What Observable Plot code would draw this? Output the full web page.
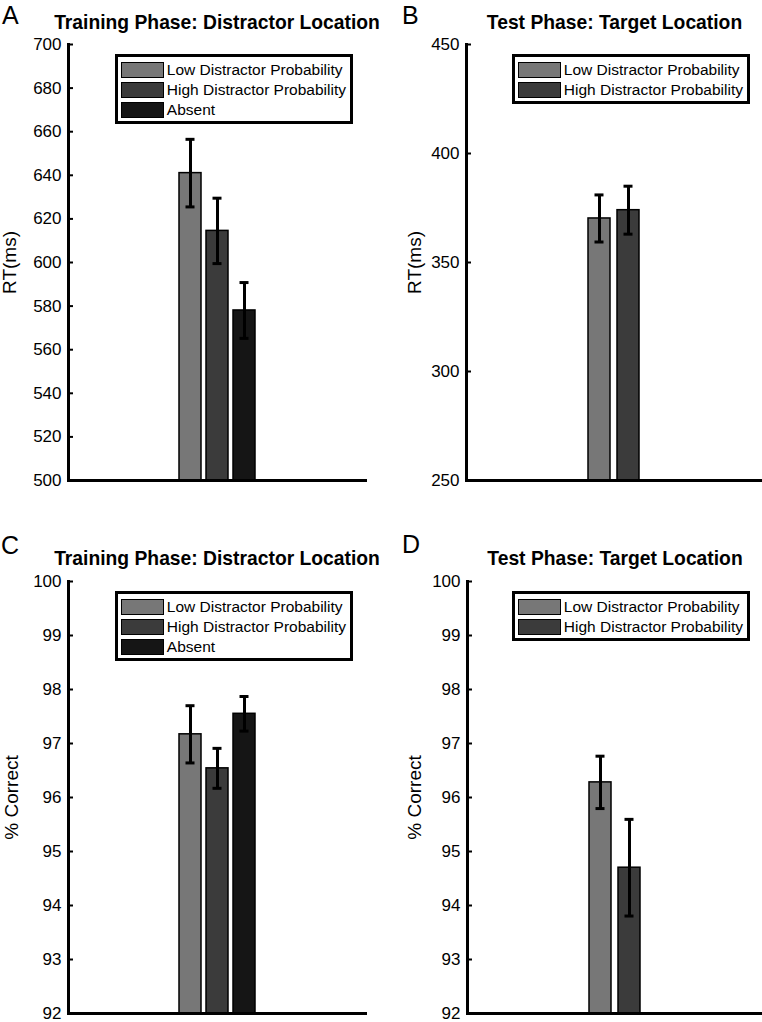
<!DOCTYPE html>
<html><head><meta charset="utf-8">
<script src="https://cdn.jsdelivr.net/npm/d3@7"></script>
<script src="https://cdn.jsdelivr.net/npm/@observablehq/plot@0.6"></script>
<style>
body{margin:0;background:#fff;font-family:"Liberation Sans",Arial,Helvetica,sans-serif;color:#000}
#wrap{position:relative;width:762px;height:1022px;overflow:hidden;background:#fff}
.panel{position:absolute}
.panel svg{overflow:visible}
.letter{position:absolute;font-size:25px;line-height:20px}
.legend{position:absolute;border:3px solid #000;background:#fff;padding:3px 4px 1px 3px;font-size:15.5px;line-height:20px}
.row{display:flex;align-items:center;height:20px;white-space:nowrap}
.sw{display:inline-block;width:41px;height:14px;border:1.5px solid #000;margin-right:3px;flex:none}
</style></head>
<body><div id="wrap"></div>
<script>
// ---- data ----
const conditionsTraining = ["Low Distractor Probability", "High Distractor Probability", "Absent"];
const conditionsTest = ["Low Distractor Probability", "High Distractor Probability"];
const conditionColors = ["#777777", "#3b3b3b", "#151515"];

const rtTrainingMean = [641.0, 614.5, 578.0];
const rtTrainingErr = [15.5, 15.0, 12.8];
const rtTestMean = [370.2, 374.0];
const rtTestErr = [10.8, 11.0];
const accTrainingMean = [97.17, 96.54, 97.55];
const accTrainingErr = [0.53, 0.37, 0.32];
const accTestMean = [96.28, 94.70];
const accTestErr = [0.485, 0.895];

const rtTrainingTicks = [500, 520, 540, 560, 580, 600, 620, 640, 660, 680, 700];
const rtTestTicks = [250, 300, 350, 400, 450];
const accTicks = [92, 93, 94, 95, 96, 97, 98, 99, 100];

const panelLetters = ["A", "B", "C", "D"];
const panelTitles = ["Training Phase: Distractor Location", "Test Phase: Target Location",
                     "Training Phase: Distractor Location", "Test Phase: Target Location"];
const yLabels = ["RT(ms)", "RT(ms)", "% Correct", "% Correct"];

// ---- drawing ----
const wrap = document.getElementById("wrap");
const FONT = "'Liberation Sans', Arial, Helvetica, sans-serif";

function drawPanel(cfg) {
  const data = cfg.cats.map((c, i) => ({cat: c, mean: cfg.mean[i], err: cfg.err[i]}));
  const base = cfg.ticks[0];
  const div = document.createElement("div");
  div.className = "panel";
  div.style.left = cfg.left + "px";
  div.style.top = cfg.top + "px";
  div.style.width = cfg.width + "px";
  div.style.height = cfg.height + "px";

  const plot = Plot.plot({
    width: cfg.width,
    height: cfg.height,
    marginLeft: cfg.mL, marginRight: cfg.mR, marginTop: cfg.mT, marginBottom: cfg.mB,
    style: {fontFamily: FONT, fontSize: "17px", background: "transparent", color: "#000", overflow: "visible"},
    x: {domain: cfg.cats, paddingInner: cfg.pi, paddingOuter: cfg.po, axis: null},
    y: {domain: [cfg.ticks[0], cfg.ticks[cfg.ticks.length - 1]]},
    color: {domain: cfg.cats, range: conditionColors.slice(0, cfg.cats.length)},
    marks: [
      Plot.barY(data, {x: "cat", y1: base, y2: "mean", fill: "cat", stroke: "#000", strokeWidth: 1.5}),
      Plot.ruleX(data, {x: "cat", y1: d => d.mean - d.err, y2: d => d.mean + d.err, stroke: "#000", strokeWidth: 3}),
      Plot.tickY(data, {x: "cat", y: d => d.mean + d.err, stroke: "#000", strokeWidth: 3, insetLeft: 6.5, insetRight: 6.5}),
      Plot.tickY(data, {x: "cat", y: d => d.mean - d.err, stroke: "#000", strokeWidth: 3, insetLeft: 6.5, insetRight: 6.5}),
      Plot.axisY({ticks: cfg.ticks, tickSize: 0, tickPadding: 7, fontSize: 17, label: null}),
      Plot.axisY({ticks: cfg.ticks, tickSize: 5, dx: 5, tickFormat: () => "", label: null, strokeWidth: 2}),
      Plot.frame({anchor: "left", stroke: "#000", strokeWidth: 3}),
      Plot.frame({anchor: "bottom", stroke: "#000", strokeWidth: 3}),
      Plot.text([cfg.ylabel], {frameAnchor: "left", dx: cfg.labelDx, rotate: -90,
                               textAnchor: "middle", lineAnchor: "middle",
                               fontSize: 19, fill: "#000"}),
      Plot.text([cfg.title], {frameAnchor: "top", dy: -cfg.titleGap, lineAnchor: "bottom",
                              textAnchor: "middle", fontWeight: "bold", fontSize: 19.3, fill: "#000"})
    ]
  });
  div.appendChild(plot);

  const letter = document.createElement("div");
  letter.className = "letter";
  letter.textContent = cfg.letter;
  letter.style.left = cfg.letterX + "px";
  letter.style.top = cfg.letterY + "px";
  div.appendChild(letter);

  const legend = document.createElement("div");
  legend.className = "legend";
  legend.style.right = (cfg.mR + 12) + "px";
  legend.style.top = (cfg.mT + 10) + "px";
  cfg.cats.forEach((c, i) => {
    const row = document.createElement("div");
    row.className = "row";
    const sw = document.createElement("span");
    sw.className = "sw";
    sw.style.background = conditionColors[i];
    const t = document.createElement("span");
    t.textContent = c;
    row.appendChild(sw);
    row.appendChild(t);
    legend.appendChild(row);
  });
  div.appendChild(legend);
  wrap.appendChild(div);
}

drawPanel({letter: panelLetters[0], title: panelTitles[0], ylabel: yLabels[0],
  cats: conditionsTraining, mean: rtTrainingMean, err: rtTrainingErr, ticks: rtTrainingTicks,
  left: 0, top: 0, width: 381, height: 500, mL: 68, mR: 16, mT: 44, mB: 20,
  pi: 0.2, po: 4, labelDx: -59, titleGap: 16, letterX: 2, letterY: 5});

drawPanel({letter: panelLetters[1], title: panelTitles[1], ylabel: yLabels[1],
  cats: conditionsTest, mean: rtTestMean, err: rtTestErr, ticks: rtTestTicks,
  left: 381, top: 0, width: 381, height: 500, mL: 85, mR: 0, mT: 44, mB: 20,
  pi: 0.23, po: 4.05, labelDx: -52, titleGap: 16, letterX: 21, letterY: 5});

drawPanel({letter: panelLetters[2], title: panelTitles[2], ylabel: yLabels[2],
  cats: conditionsTraining, mean: accTrainingMean, err: accTrainingErr, ticks: accTicks,
  left: 0, top: 510, width: 381, height: 512, mL: 68, mR: 16, mT: 71, mB: 9,
  pi: 0.2, po: 4, labelDx: -57, titleGap: 17, letterX: 1, letterY: 25});

drawPanel({letter: panelLetters[3], title: panelTitles[3], ylabel: yLabels[3],
  cats: conditionsTest, mean: accTestMean, err: accTestErr, ticks: accTicks,
  left: 381, top: 510, width: 381, height: 512, mL: 86, mR: 0, mT: 71, mB: 9,
  pi: 0.23, po: 4.05, labelDx: -53, titleGap: 17, letterX: 21, letterY: 24});
</script>
</body></html>
